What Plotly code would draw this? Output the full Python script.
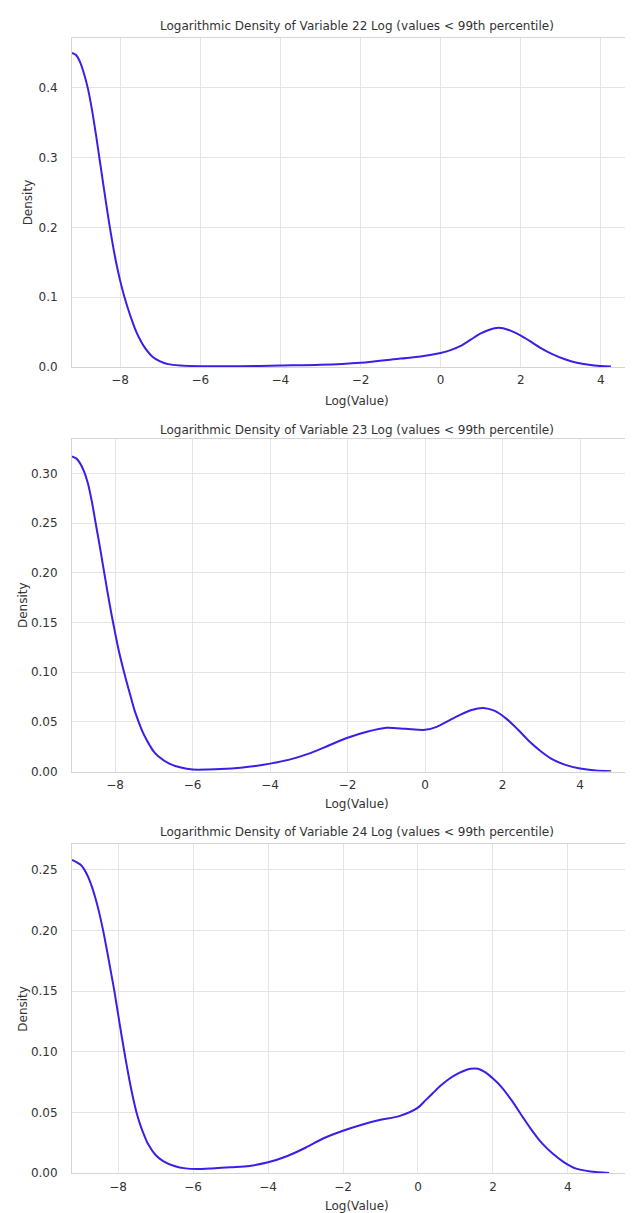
import plotly.graph_objects as go

# ---------------- data ----------------
titles = [
    "Logarithmic Density of Variable 22 Log (values < 99th percentile)",
    "Logarithmic Density of Variable 23 Log (values < 99th percentile)",
    "Logarithmic Density of Variable 24 Log (values < 99th percentile)",
]

x22 = [-9.2, -9.1, -9.0, -8.9, -8.8, -8.7, -8.6, -8.5, -8.4, -8.3, -8.2, -8.1, -8.0, -7.9,
       -7.8, -7.7, -7.6, -7.5, -7.4, -7.2, -7.0, -6.8, -6.5, -6.0, -5.0, -4.0, -3.0, -2.0,
       -1.0, -0.5, 0.0, 0.25, 0.5, 0.75, 1.0, 1.2, 1.45, 1.7, 2.0, 2.2, 2.5, 2.8, 3.1, 3.4,
       3.7, 4.0, 4.25]
d22 = [0.450, 0.447, 0.437, 0.420, 0.398, 0.368, 0.332, 0.293, 0.254, 0.216, 0.181, 0.150,
       0.124, 0.102, 0.083, 0.066, 0.051, 0.039, 0.029, 0.015, 0.008, 0.004, 0.002, 0.001,
       0.001, 0.002, 0.003, 0.006, 0.012, 0.015, 0.020, 0.024, 0.030, 0.039, 0.048, 0.053,
       0.056, 0.053, 0.045, 0.038, 0.027, 0.018, 0.011, 0.006, 0.003, 0.0012, 0.0005]

x23 = [-9.11, -9.0, -8.9, -8.8, -8.7, -8.6, -8.5, -8.4, -8.3, -8.2, -8.1, -8.0, -7.9, -7.8,
       -7.7, -7.6, -7.5, -7.4, -7.3, -7.2, -7.1, -7.0, -6.9, -6.6, -6.3, -6.0, -5.6, -5.0,
       -4.5, -4.0, -3.5, -3.0, -2.5, -2.0, -1.5, -1.0, -0.5, 0.0, 0.3, 0.6, 0.9, 1.2, 1.5,
       1.8, 2.1, 2.4, 2.7, 3.0, 3.3, 3.6, 4.0, 4.4, 4.8]
d23 = [0.317, 0.315, 0.310, 0.302, 0.290, 0.272, 0.250, 0.228, 0.205, 0.182, 0.160, 0.140,
       0.121, 0.105, 0.090, 0.076, 0.062, 0.051, 0.041, 0.033, 0.026, 0.020, 0.016, 0.008,
       0.004, 0.002, 0.002, 0.003, 0.005, 0.008, 0.012, 0.018, 0.026, 0.034, 0.040, 0.044,
       0.043, 0.042, 0.045, 0.051, 0.057, 0.062, 0.064, 0.061, 0.053, 0.042, 0.030, 0.020,
       0.012, 0.007, 0.003, 0.001, 0.0003]

x24 = [-9.23, -9.1, -9.0, -8.9, -8.8, -8.7, -8.6, -8.5, -8.4, -8.3, -8.2, -8.1, -8.0, -7.9,
       -7.8, -7.7, -7.6, -7.5, -7.4, -7.3, -7.2, -7.0, -6.8, -6.5, -6.2, -5.9, -5.5, -5.0,
       -4.5, -4.0, -3.5, -3.0, -2.5, -2.0, -1.5, -1.0, -0.5, 0.0, 0.2, 0.4, 0.6, 0.8, 1.0,
       1.2, 1.4, 1.6, 1.8, 2.0, 2.2, 2.5, 2.8, 3.0, 3.3, 3.6, 3.9, 4.2, 4.6, 5.1]
d24 = [0.258, 0.256, 0.254, 0.250, 0.244, 0.236, 0.226, 0.214, 0.200, 0.184, 0.167, 0.150,
       0.131, 0.112, 0.094, 0.077, 0.062, 0.049, 0.039, 0.031, 0.024, 0.015, 0.010, 0.006,
       0.004, 0.0035, 0.004, 0.005, 0.006, 0.009, 0.014, 0.021, 0.029, 0.035, 0.040, 0.044,
       0.047, 0.054, 0.060, 0.066, 0.072, 0.077, 0.081, 0.084, 0.086, 0.086, 0.083, 0.078,
       0.072, 0.060, 0.046, 0.037, 0.025, 0.016, 0.009, 0.004, 0.0015, 0.0003]

x_ticks = [-8, -6, -4, -2, 0, 2, 4]
y_ticks22 = [0.0, 0.1, 0.2, 0.3, 0.4]
y_ticks23 = [0.00, 0.05, 0.10, 0.15, 0.20, 0.25, 0.30]
y_ticks24 = [0.00, 0.05, 0.10, 0.15, 0.20, 0.25]

# ---------------- layout ----------------
W, H = 633, 1213
LINE = "#3a1fe8"
GRID = "#e3e3e9"
SPINE = "#d4d4d8"
TXT = "#333333"
FONT = "DejaVu Sans"

panels = [
    dict(x=x22, d=d22, yt=y_ticks22, fmt=".1f", xr=[-9.2, 5.0], yr=[0, 0.4715],
         px=(30, 361), title_y=18, xlab_y=395, ylab_x=20),
    dict(x=x23, d=d23, yt=y_ticks23, fmt=".2f", xr=[-9.11, 5.57], yr=[0, 0.335],
         px=(433, 768), title_y=424, xlab_y=801, ylab_x=15),
    dict(x=x24, d=d24, yt=y_ticks24, fmt=".2f", xr=[-9.23, 5.95], yr=[0, 0.271],
         px=(841, 1172), title_y=829, xlab_y=1205, ylab_x=15),
]

fig = go.Figure()
left_px = 64
annotations = []
for i, p in enumerate(panels):
    n = "" if i == 0 else str(i + 1)
    fig.add_trace(go.Scatter(
        x=p["x"], y=p["d"], mode="lines",
        line=dict(color=LINE, width=2, shape="spline", smoothing=0.8),
        xaxis="x" + n, yaxis="y" + n, showlegend=False, hoverinfo="x+y",
    ))
    top, bot = p["px"]
    fig.layout["xaxis" + n] = dict(
        domain=[left_px / W, 1.0], range=p["xr"], anchor="y" + n,
        tickvals=x_ticks, showgrid=True, gridcolor=GRID, gridwidth=1,
        showline=True, linecolor=SPINE, linewidth=1, mirror=True,
        zeroline=False, ticks="", ticklabelstandoff=2,
        tickfont=dict(family=FONT, size=12, color=TXT),
    )
    fig.layout["yaxis" + n] = dict(
        domain=[1 - bot / H, 1 - top / H], range=p["yr"], anchor="x" + n,
        tickvals=p["yt"], tickformat=p["fmt"], showgrid=True, gridcolor=GRID, gridwidth=1,
        showline=True, linecolor=SPINE, linewidth=1, mirror=False,
        zeroline=False, ticks="", ticklabelstandoff=11,
        tickfont=dict(family=FONT, size=12, color=TXT),
    )
    annotations.append(dict(
        text=titles[i], xref="paper", yref="paper", x=349 / W, y=1 - p["title_y"] / H,
        xanchor="center", yanchor="middle", showarrow=False,
        font=dict(family=FONT, size=12, color=TXT),
    ))
    annotations.append(dict(
        text="Log(Value)", xref="paper", yref="paper", x=349 / W, y=1 - p["xlab_y"] / H,
        xanchor="center", yanchor="middle", showarrow=False,
        font=dict(family=FONT, size=12, color=TXT),
    ))
    annotations.append(dict(
        text="Density", xref="paper", yref="paper", x=p["ylab_x"] / W, y=1 - (top + bot) / 2 / H,
        xanchor="center", yanchor="middle", showarrow=False, textangle=-90,
        font=dict(family=FONT, size=12, color=TXT),
    ))

fig.update_layout(
    width=W, height=H,
    margin=dict(l=0, r=0, t=0, b=0),
    paper_bgcolor="white", plot_bgcolor="white",
    annotations=annotations,
    font=dict(family=FONT, size=12, color=TXT),
)

fig.write_html("out.html")
